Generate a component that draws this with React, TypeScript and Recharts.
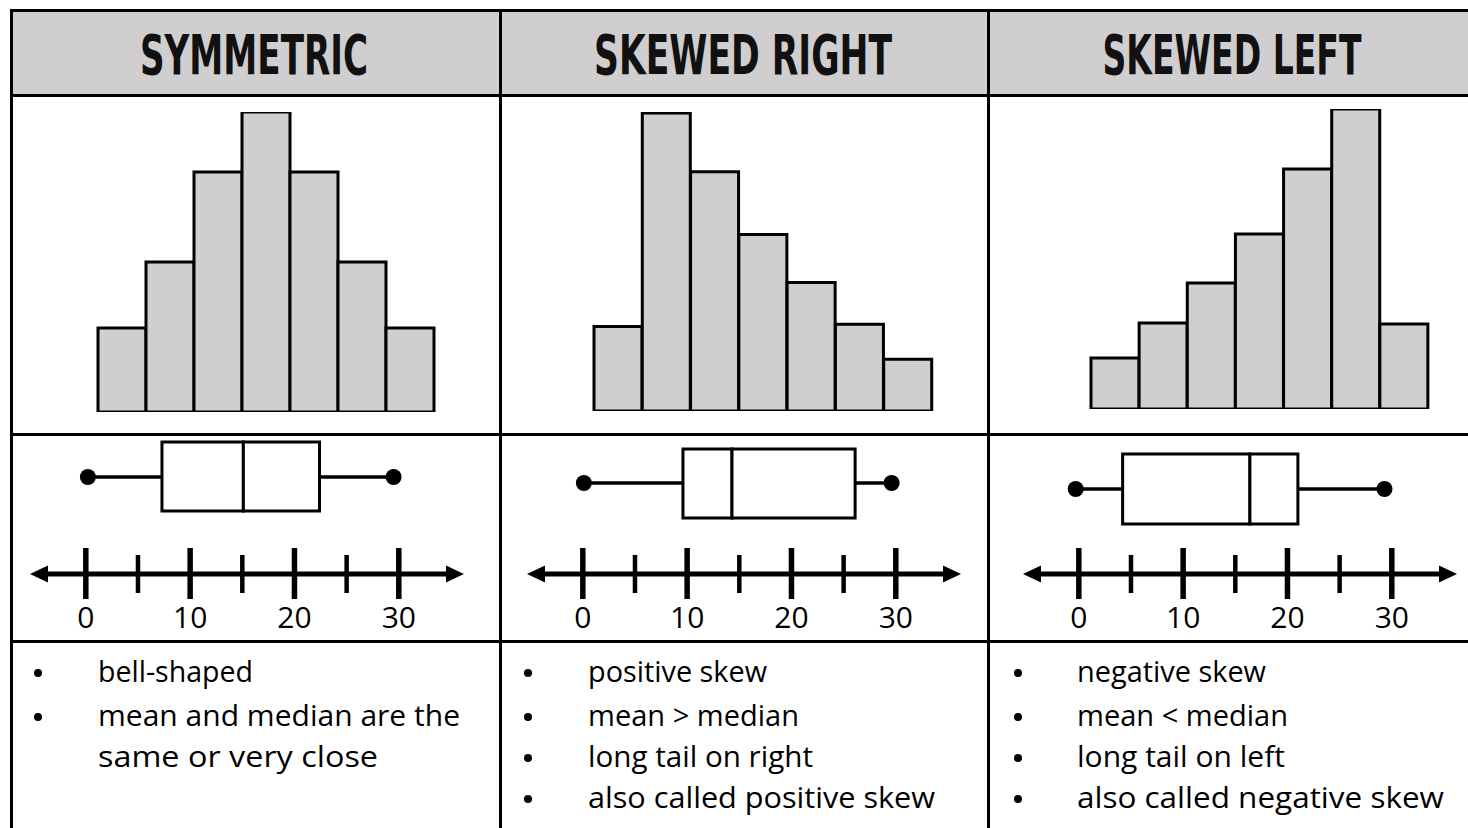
import React from 'react';
import {
  BarChart,
  Bar,
  XAxis,
  YAxis,
  ComposedChart,
  ReferenceArea,
  ReferenceLine,
  ReferenceDot,
  Scatter,
} from 'recharts';

// ---------- data ----------
const panelTitles = ['SYMMETRIC', 'SKEWED RIGHT', 'SKEWED LEFT'];
const binLabels = ['1', '2', '3', '4', '5', '6', '7'];
const symmetricCounts = [2.8, 5.0, 8.0, 10.0, 8.0, 5.0, 2.8];
const skewedRightCounts = [2.83, 9.97, 8.0, 5.9, 4.3, 2.9, 1.73];
const skewedLeftCounts = [1.7, 2.87, 4.2, 5.83, 8.0, 10.0, 2.83];
// five-number summaries: min, Q1, median, Q3, max
const symmetricSummary = [0.2, 7.3, 15.1, 22.4, 29.5];
const skewedRightSummary = [0.1, 9.6, 14.3, 26.1, 29.6];
const skewedLeftSummary = [-0.3, 4.2, 16.4, 21.0, 29.3];
const numberLineTicks = [0, 5, 10, 15, 20, 25, 30];
const numberLineLabels = [0, 10, 20, 30];
const symmetricNotes = [['bell-shaped'], ['mean and median are the', 'same or very close']];
const skewedRightNotes = [['positive skew'], ['mean > median'], ['long tail on right'], ['also called positive skew']];
const skewedLeftNotes = [['negative skew'], ['mean < median'], ['long tail on left'], ['also called negative skew']];

// ---------- layout / style ----------
const GRAY = '#d0cecf';
const FONT_TEXT = '"Open Sans", "DejaVu Sans", sans-serif';
const FONT_TITLE = '"DejaVu Sans Condensed", "DejaVu Sans", sans-serif';
const DMIN = -5.35;
const DMAX = 36.25;

const panelLayout = [
  {
    left: 12,
    titleX: 254,
    titleW: 228,
    hist: { l: 86, r: 66, t: 15, b: 22 },
    box: { l: 18, r: 36, top: 132, bottom: 63, whisker: 97 },
    bulletX: 38,
    textX: 98,
    noteWidths: [155, 362, 280],
  },
  {
    left: 500,
    titleX: 743,
    titleW: 298,
    hist: { l: 94, r: 56, t: 15, b: 23 },
    box: { l: 27, r: 27, top: 125, bottom: 56, whisker: 91 },
    bulletX: 528,
    textX: 588,
    noteWidths: [179, 211, 225, 347],
  },
  {
    left: 988,
    titleX: 1232,
    titleW: 259,
    hist: { l: 103, r: 48, t: 12, b: 25 },
    box: { l: 35, r: 19, top: 120, bottom: 50, whisker: 85 },
    bulletX: 1018,
    textX: 1077,
    noteWidths: [189, 211, 208, 367],
  },
];
const lineBaselines = [682, 726, 767, 808];

const panelCounts = [symmetricCounts, skewedRightCounts, skewedLeftCounts];
const panelSummaries = [symmetricSummary, skewedRightSummary, skewedLeftSummary];
const panelNotes = [symmetricNotes, skewedRightNotes, skewedLeftNotes];

// ---------- pieces ----------
const AxisTick = (props: any) => {
  const { x, y, payload } = props;
  const v = payload.value;
  const major = numberLineLabels.includes(v);
  return (
    <g>
      <line
        x1={x}
        x2={x}
        y1={y - (major ? 26 : 19)}
        y2={y + (major ? 25 : 19)}
        stroke="#000"
        strokeWidth={major ? 5.5 : 4.5}
      />
      {major && (
        <text x={x} y={y + 54} textAnchor="middle" fontSize={30} fontFamily={FONT_TEXT} fill="#000">
          {v}
        </text>
      )}
    </g>
  );
};

const leftArrow = (p: any) => (
  <polygon points={`${p.cx},${p.cy} ${p.cx + 18},${p.cy - 8.5} ${p.cx + 18},${p.cy + 8.5}`} fill="#000" />
);
const rightArrow = (p: any) => (
  <polygon points={`${p.cx},${p.cy} ${p.cx - 18},${p.cy - 8.5} ${p.cx - 18},${p.cy + 8.5}`} fill="#000" />
);
const endDot = (p: any) => <circle cx={p.cx} cy={p.cy} r={8} fill="#000" />;

function Histogram({ counts, layout }: any) {
  const data = counts.map((c: number, i: number) => ({ bin: binLabels[i], count: c }));
  const m = layout.hist;
  return (
    <div style={{ position: 'absolute', left: layout.left, top: 97 }}>
      <BarChart
        width={488}
        height={337}
        data={data}
        margin={{ top: m.t, right: m.r, bottom: m.b, left: m.l }}
        barCategoryGap={0}
        barGap={0}
      >
        <XAxis dataKey="bin" hide />
        <YAxis hide type="number" domain={[0, 10]} allowDataOverflow />
        <Bar dataKey="count" fill={GRAY} stroke="#000" strokeWidth={3} isAnimationActive={false} />
      </BarChart>
    </div>
  );
}

function BoxPlot({ summary, layout }: any) {
  const [mn, q1, med, q3, mx] = summary;
  const b = layout.box;
  const ends = [
    { x: mn, y: b.whisker },
    { x: mx, y: b.whisker },
  ];
  return (
    <div style={{ position: 'absolute', left: layout.left, top: 434 }}>
      <ComposedChart
        width={488}
        height={207}
        data={ends}
        margin={{ top: 0, bottom: 0, left: b.l, right: b.r }}
      >
        <XAxis
          type="number"
          dataKey="x"
          domain={[DMIN, DMAX]}
          allowDataOverflow
          ticks={numberLineTicks}
          interval={0}
          tickSize={0}
          tickMargin={0}
          tickLine={false}
          axisLine={false}
          height={67}
          tick={(p: any) => <AxisTick {...p} />}
        />
        <YAxis type="number" dataKey="y" hide domain={[0, 140]} allowDataOverflow />
        <ReferenceLine
          segment={[
            { x: DMIN + 1.5, y: 0 },
            { x: DMAX - 1.5, y: 0 },
          ]}
          stroke="#000"
          strokeWidth={5}
          ifOverflow="visible"
        />
        <ReferenceDot x={DMIN} y={0} shape={leftArrow} ifOverflow="visible" />
        <ReferenceDot x={DMAX} y={0} shape={rightArrow} ifOverflow="visible" />
        <ReferenceLine
          segment={[
            { x: mn, y: b.whisker },
            { x: q1, y: b.whisker },
          ]}
          stroke="#000"
          strokeWidth={3.5}
          ifOverflow="visible"
        />
        <ReferenceLine
          segment={[
            { x: q3, y: b.whisker },
            { x: mx, y: b.whisker },
          ]}
          stroke="#000"
          strokeWidth={3.5}
          ifOverflow="visible"
        />
        <ReferenceArea
          x1={q1}
          x2={med}
          y1={b.bottom}
          y2={b.top}
          fill="#fff"
          fillOpacity={1}
          stroke="#000"
          strokeWidth={3}
          ifOverflow="visible"
        />
        <ReferenceArea
          x1={med}
          x2={q3}
          y1={b.bottom}
          y2={b.top}
          fill="#fff"
          fillOpacity={1}
          stroke="#000"
          strokeWidth={3}
          ifOverflow="visible"
        />
        <Scatter data={ends} dataKey="y" shape={endDot} isAnimationActive={false} />
      </ComposedChart>
    </div>
  );
}

function TableFrame() {
  return (
    <svg width={1468} height={828} style={{ position: 'absolute', left: 0, top: 0 }}>
      <rect x={12} y={10} width={1460} height={85} fill={GRAY} />
      {[10.5, 95.5, 434.5, 641.5].map((y) => (
        <line key={'h' + y} x1={10} x2={1468} y1={y} y2={y} stroke="#000" strokeWidth={3} />
      ))}
      {[11.5, 500.5, 988.5].map((x) => (
        <line key={'v' + x} x1={x} x2={x} y1={9} y2={828} stroke="#000" strokeWidth={3} />
      ))}
      {panelTitles.map((t, i) => (
        <text
          key={t}
          transform={`translate(${panelLayout[i].titleX},74) scale(1,1.3)`}
          x={0}
          y={0}
          textAnchor="middle"
          fontFamily={FONT_TITLE}
          fontWeight="bold"
          fontSize={43}
          textLength={panelLayout[i].titleW}
          lengthAdjust="spacingAndGlyphs"
          fill="#111"
        >
          {t}
        </text>
      ))}
      {panelNotes.map((notes, pi) => {
        const L = panelLayout[pi];
        let row = 0;
        const out: any[] = [];
        notes.forEach((item, ii) => {
          item.forEach((line, li) => {
            const yb = lineBaselines[row];
            if (li === 0) {
              out.push(<circle key={`b${pi}-${ii}`} cx={L.bulletX} cy={yb - 9} r={4} fill="#000" />);
            }
            out.push(
              <text
                key={`t${pi}-${row}`}
                x={L.textX}
                y={yb}
                fontFamily={FONT_TEXT}
                fontSize={29}
                textLength={L.noteWidths[row]}
                lengthAdjust="spacingAndGlyphs"
                fill="#000"
              >
                {line}
              </text>
            );
            row += 1;
          });
        });
        return <g key={'n' + pi}>{out}</g>;
      })}
    </svg>
  );
}

export default function App() {
  return (
    <div
      style={{
        position: 'absolute',
        left: 0,
        top: 0,
        width: 1468,
        height: 828,
        overflow: 'hidden',
        background: '#fff',
      }}
    >
      <TableFrame />
      {panelLayout.map((L, i) => (
        <React.Fragment key={i}>
          <Histogram counts={panelCounts[i]} layout={L} />
          <BoxPlot summary={panelSummaries[i]} layout={L} />
        </React.Fragment>
      ))}
    </div>
  );
}
